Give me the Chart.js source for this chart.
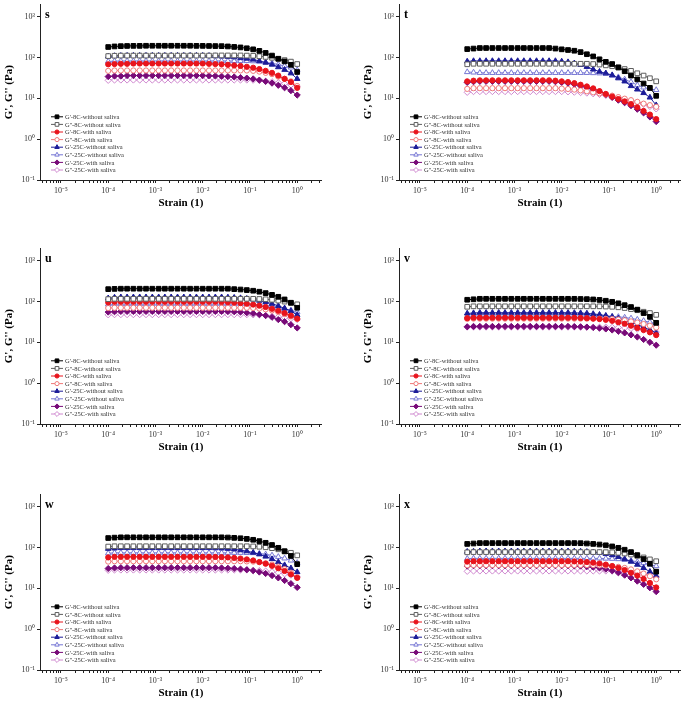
<!DOCTYPE html>
<html>
<head>
<meta charset="utf-8">
<script src="https://cdn.jsdelivr.net/npm/chart.js@4/dist/chart.umd.min.js"></script>
<style>
  body { margin: 0; background: #fff; }
  #wrap { position: relative; width: 685px; height: 704px; overflow: hidden; }
  canvas { position: absolute; }
</style>
</head>
<body>
<div id="wrap"></div>
<script>
// strain sweep, 31 points from 1e-4 to 1
const strain = [1.00e-4,1.36e-4,1.85e-4,2.51e-4,3.41e-4,4.64e-4,6.31e-4,8.58e-4,1.17e-3,1.58e-3,2.15e-3,2.93e-3,3.98e-3,5.41e-3,7.36e-3,1.00e-2,1.36e-2,1.85e-2,2.51e-2,3.41e-2,4.64e-2,6.31e-2,8.58e-2,0.117,0.158,0.215,0.293,0.398,0.541,0.736,1.00];

const seriesLabels = ["G'-8C-without saliva", "G''-8C-without saliva", "G'-8C-with saliva", "G''-8C-with saliva",
  "G'-25C-without saliva", "G''-25C-without saliva", "G'-25C-with saliva", "G''-25C-with saliva"];

const xTickExps = [-5, -4, -3, -2, -1, 0];
const yTickExps = [-1, 0, 1, 2, 3];
const minorSteps = [2, 3, 4, 5, 6, 7, 8, 9];

// panel s
const sGp8    = [180,186,189,191,192,192,193,193,193,193, 193,193,193,193,192,192,191,190,189,186, 181,176,168,158,145,129,111,93,80,66, 44];
const sGpp8   = [108,110,111,111,111,111,111,111,111,111, 111,111,111,111,111,111,111,112,112,112, 112,112,111,110,107,103,98,92,86,79, 69];
const sGp8s   = [68,69,70,70,71,71,71,71,71,71, 71,71,71,71,71,71,70,69,68,66, 64,62,59,56,52,47,42,36,30,25, 18];
const sGpp8s  = [47,48,48,48,48,48,48,48,48,48, 48,48,48,48,48,48,48,48,48,48, 48,48,48,47,45,42,39,34,30,26, 20];
const sGp25   = [106,109,110,111,111,111,111,111,111,111, 111,111,111,111,111,111,110,108,106,104, 101,97,94,89,82,75,67,58,50,41, 30];
const sGpp25  = [80,81,82,82,82,82,82,82,82,82, 82,82,82,82,82,82,82,82,82,82, 82,82,82,81,79,76,72,67,62,57, 49];
const sGp25s  = [34,35,35,36,36,36,36,36,36,36, 36,36,36,36,36,36,35.6,35.2,34.6,34, 33.3,32.2,31.2,29.9,27.9,25.9,23.5,20.8,18.1,15.4, 12];
const sGpp25s = [27.5,28,28,28,28,28,28,28,28,28, 28,28,28,28,28,28,28,28,28,28, 28,28,28,27.7,27.2,26.4,25.4,24.1,22.8,21.2, 19];

// panel t
const tGp8    = [160,165,170,170,170,170,170,170,170,170, 170,170,170,170,165,158,152,146,135,120, 106,90,78,69,57,46,36,29,23,18, 11.5];
const tGpp8   = [68,70,70,70,70,70,70,70,70,70, 70,70,70,70,70,70,70,70,70,70, 69,67,64,61,57,52,47,41,36,31, 26];
const tGp8s   = [26,27,27.5,27.5,27.5,27.5,27.5,27.5,27.5,27.5, 27.5,27.5,27.5,27.5,27,26,25,23.5,21.5,19.5, 17.5,15,12.8,11,9.6,8.4,7.2,6,4.9,4, 3.1];
const tGpp8s  = [17,17.7,17.7,17.7,17.7,17.7,17.7,17.7,17.7,17.7, 17.7,17.7,17.7,17.7,17.7,17.3,16.9,16.3,15.6,14.8, 14,13.2,12.4,11.6,10.7,9.8,9,8.2,7.4,6.8, 6.2];
const tGp25   = [80,82,82,82,82,82,82,82,82,82, 82,82,82,82,82,80,77,72,66,59, 51,45,41,37,31,26,20,16.5,13.5,10.5, 6.8];
const tGpp25  = [44,43,42,42,42,42,42,42,42,42, 42,42,42,42,42,42,42,42,42,42, 41.5,41,40,36,33,29,25,21,18.5,17, 16];
const tGp25s  = [24.5,25.5,26,26,26,26,26,26,26,26, 26,26,26,26,25.5,24.5,23.5,22,20,18.3, 16.3,14.2,12.2,10.5,9,7.8,6.6,5.4,4.4,3.5, 2.7];
const tGpp25s = [14,14.6,14.6,14.6,14.6,14.6,14.6,14.6,14.6,14.6, 14.6,14.6,14.6,14.6,14.6,14.6,14.4,14.1,13.8,13.4, 12.9,12.4,11.8,11.1,10.3,9.5,8.7,7.9,7.1,6.3, 5.5];

// panel u
const uGp8    = [200,203,205,205,205,205,205,205,205,205, 205,205,205,205,205,205,205,205,205,205, 200,196,190,183,173,160,145,130,112,93, 70];
const uGpp8   = [114,116,116,116,116,116,116,116,116,116, 116,116,116,116,116,116,116,116,116,116, 116,116,116,116,115,113,110,105,99,92, 85];
const uGp8s   = [95,98,98,98,98,98,98,98,98,98, 98,98,98,98,98,98,98,98,97,96, 94,91,88,84,79,73,66,59,52,45, 38];
const uGpp8s  = [69,70,70,70,70,70,70,70,70,70, 70,70,70,70,70,70,70,70,70,70, 70,70,70,69,67,64,60,55,49,43, 37];
const uGp25   = [120,125,127,127,127,127,127,127,127,127, 127,127,127,127,127,127,127,127,127,126, 124,121,117,112,105,97,88,78,68,58, 47];
const uGpp25  = [85,86,86,86,86,86,86,86,86,86, 86,86,86,86,86,86,86,86,86,86, 86,86,86,85,83,80,76,71,66,61, 55];
const uGp25s  = [55,56,57,57,57,57,57,57,57,57, 57,57,57,57,57,57,57,57,57,56.5, 56,55,53,51,48,45,41,36,32,27, 22.5];
const uGpp25s = [47,47.5,47.5,47.5,47.5,47.5,47.5,47.5,47.5,47.5, 47.5,47.5,47.5,47.5,47.5,47.5,47.5,47.5,47.5,47.5, 47.5,47.5,47.5,47,46.5,45.5,44,42,40,38, 36];

// panel v
const vGp8    = [110,113,116,116,116,116,116,116,116,116, 116,116,116,116,116,116,116,116,115,114, 112,109,104,98,90,81,73,63,52,42, 30];
const vGpp8   = [74,76,76,76,76,76,76,76,76,76, 76,76,76,76,76,76,76,76,76,76, 76,76,75,74,72,69,65,61,56,52, 47];
const vGp8s   = [39,40,40,40,40,40,40,40,40,40, 40,40,40,40,40,40,40,40,39.5,39, 38,37,35.5,33.5,31,28.5,25.5,22.5,20,17.5, 15];
const vGpp8s  = [37.5,38,38,38,38,38,38,38,38,38, 38,38,38,38,38,38,38,38,38,38, 38,38,37.5,37,36,34.5,32.5,30.5,28,25.5, 23];
const vGp25   = [51,52,53,53,53,53,53,53,53,53, 53,53,53,53,53,53,53,52.5,52,51, 49.5,47.5,45,42,38.5,35,31,27,23.5,20, 17];
const vGpp25  = [43,44,44,44,44,44,44,44,44,44, 44,44,44,44,44,44,44,44,44,44, 44,44,43.5,43,42,40.5,38.5,36,33.5,31, 28.6];
const vGp25s  = [24,24.5,24.5,24.5,24.5,24.5,24.5,24.5,24.5,24.5, 24.5,24.5,24.5,24.5,24.5,24.5,24.5,24.3,24,23.6, 23,22.2,21.2,20,18.6,17,15.2,13.5,11.7,10, 8.5];
const vGpp25s = [23.5,23.5,23.5,23.5,23.5,23.5,23.5,23.5,23.5,23.5, 23.5,23.5,23.5,23.5,23.5,23.5,23.5,23.5,23.5,23.5, 23.5,23.5,23.5,23.3,23,22.5,21.8,21,20,19, 17.8];

// panel w
const wGp8    = [170,174,177,177,177,177,177,177,177,177, 177,177,177,177,177,177,177,177,177,175, 172,168,162,154,143,130,115,98,80,62, 39];
const wGpp8   = [105,107,107,107,107,107,107,107,107,107, 107,107,107,107,107,107,107,107,107,107, 107,107,107,106,104,101,96,90,82,74, 64];
const wGp8s   = [57,59,59,59,59,59,59,59,59,59, 59,59,59,59,59,59,59,58.5,58,57, 55.5,53.5,51,48,44,40,35.5,31,26.5,22, 18];
const wGpp8s  = [45,46,46,46,46,46,46,46,46,46, 46,46,46,46,46,46,46,46,46,46, 46,46,45.5,45,43.5,41,38,34,29.5,24, 18.5];
const wGp25   = [93,95,97,97,97,97,97,97,97,97, 97,97,97,97,97,97,97,96,95,93, 90,86,81,75,68,60,52,44,37,31, 25];
const wGpp25  = [72,74,74,74,74,74,74,74,74,74, 74,74,74,74,74,74,74,74,74,74, 74,74,73.5,73,71,68,64,59,54,48, 42];
const wGp25s  = [30.5,31.5,32,32,32,32,32,32,32,32, 32,32,32,32,32,32,32,32,31.5,31, 30.5,29.5,28.5,27,25,23,20.5,18,15.5,13, 10.5];
const wGpp25s = [27.5,28,28,28,28,28,28,28,28,28, 28,28,28,28,28,28,28,28,28,28, 28,28,28,27.7,27.2,26.4,25.4,24.1,22.6,21, 19];

// panel x
const xGp8    = [122,125,128,128,128,128,128,128,128,128, 128,128,128,128,128,128,128,128,127,125, 122,118,113,106,98,88,77,65,52,40, 25.5];
const xGpp8   = [76,77,77,77,77,77,77,77,77,77, 77,77,77,77,77,77,77,77,77,77, 77,77,76.5,76,74,71,67,62,57,51, 46];
const xGp8s   = [45,46,46,46,46,46,46,46,46,46, 46,46,46,46,46,46,46,45.5,45,44, 42.5,40.5,38,35,31.5,28,24,20.5,17,13.5, 10.5];
const xGpp8s  = [36.5,37,37,37,37,37,37,37,37,37, 37,37,37,37,37,37,37,37,37,37, 37,36.5,36,35,33.5,31.5,29,26,23,19.8, 16.6];
const xGp25   = [79,80,81,81,81,81,81,81,81,81, 81,81,81,81,81,81,81,80.5,80,78.5, 76.5,73.5,70,65,59,52,45,38,31.5,25.5, 20];
const xGpp25  = [53,54,54,54,54,54,54,54,54,54, 54,54,54,54,54,54,54,54,54,54, 54,54,53.5,53,52,50,47.5,44.5,41.5,38, 35];
const xGp25s  = [35,36,36,36,36,36,36,36,36,36, 36,36,36,36,36,36,36,35.5,35,34, 33,31.5,29.5,27,24,21,18,15,12.5,10.3, 8.3];
const xGpp25s = [26,26.5,26.5,26.5,26.5,26.5,26.5,26.5,26.5,26.5, 26.5,26.5,26.5,26.5,26.5,26.5,26.5,26.5,26.5,26.5, 26.5,26.5,26.5,26.3,26,25.4,24.6,23.5,22.2,20.7, 19];

const panels = [
  { name: 's', series: [sGp8, sGpp8, sGp8s, sGpp8s, sGp25, sGpp25, sGp25s, sGpp25s] },
  { name: 't', series: [tGp8, tGpp8, tGp8s, tGpp8s, tGp25, tGpp25, tGp25s, tGpp25s] },
  { name: 'u', series: [uGp8, uGpp8, uGp8s, uGpp8s, uGp25, uGpp25, uGp25s, uGpp25s] },
  { name: 'v', series: [vGp8, vGpp8, vGp8s, vGpp8s, vGp25, vGpp25, vGp25s, vGpp25s] },
  { name: 'w', series: [wGp8, wGpp8, wGp8s, wGpp8s, wGp25, wGpp25, wGp25s, wGpp25s] },
  { name: 'x', series: [xGp8, xGpp8, xGp8s, xGpp8s, xGp25, xGpp25, xGp25s, xGpp25s] }
];

// styles
const seriesColors = ['#000000', '#5e5e5e', '#e8141c', '#f07878', '#1c1c98', '#7676d4', '#780a78', '#cf88cf'];
const seriesFilled = [true, false, true, false, true, false, true, false];
const seriesShapes = ['rect', 'rect', 'circle', 'circle', 'triangle', 'triangle', 'rectRot', 'rectRot'];
const seriesRadius = [3.3, 3.3, 2.6, 2.6, 3.2, 3.2, 3.1, 3.1];
const panelLeft = [0, 359, 0, 359, 0, 359];
const panelTop = [0, 0, 244, 244, 490, 490];

const SERIF = '"Liberation Serif", "Times New Roman", serif';
const SUP = { '-': '\u207B', '0': '\u2070', '1': '\u00B9', '2': '\u00B2', '3': '\u00B3', '4': '\u2074', '5': '\u2075', '6': '\u2076' };

function decadeLabel(v, exps) {
  const e = Math.round(Math.log10(v));
  if (Math.abs(v - Math.pow(10, e)) / v > 1e-6 || exps.indexOf(e) < 0) return '';
  return '10' + String(e).split('').map(c => SUP[c]).join('');
}

const xMin = 3.6e-6, xMax = 3.3, yMin = 0.1, yMax = 2000;
const xTicks = [];
for (let e = -6; e <= 0; e++) {
  [1].concat(minorSteps).forEach(m => {
    const v = m * Math.pow(10, e);
    if (v >= xMin && v <= xMax) xTicks.push(v);
  });
}
const yTicks = yTickExps.map(e => Math.pow(10, e));

function marker(ctx, shape, r, x, y) {
  if (Chart.helpers && Chart.helpers.drawPoint) {
    Chart.helpers.drawPoint(ctx, { pointStyle: shape, radius: r, borderWidth: 1, rotation: 0 }, x, y);
    return;
  }
  ctx.beginPath();
  ctx.arc(x, y, r, 0, Math.PI * 2);
  ctx.fill(); ctx.stroke();
}

const overlay = {
  id: 'overlay',
  afterDraw(chart, args, opts) {
    const ctx = chart.ctx, a = chart.chartArea;
    ctx.save();
    ctx.fillStyle = '#000';
    ctx.textBaseline = 'middle';
    ctx.font = 'bold 12px ' + SERIF;
    ctx.fillText(opts.letter, a.left + 5, a.top + 11);
    ctx.font = '6.5px ' + SERIF;
    const ds = chart.data.datasets;
    ds.forEach((d, i) => {
      const y = a.bottom - 10 - (ds.length - 1 - i) * 7.6;
      const x0 = a.left + 11;
      ctx.lineWidth = 1;
      ctx.strokeStyle = d.borderColor;
      ctx.beginPath(); ctx.moveTo(x0, y); ctx.lineTo(x0 + 12, y); ctx.stroke();
      ctx.fillStyle = d.pointBackgroundColor;
      ctx.strokeStyle = d.pointBorderColor;
      marker(ctx, d.pointStyle, d.pointRadius * 0.8, x0 + 6, y);
      ctx.fillStyle = '#333';
      ctx.fillText(d.label, x0 + 14, y + 0.5);
    });
    ctx.restore();
  }
};

const wrap = document.getElementById('wrap');
panels.forEach((p, k) => {
  const cv = document.createElement('canvas');
  cv.width = 326; cv.height = 212;
  cv.style.width = '326px'; cv.style.height = '212px';
  cv.style.left = panelLeft[k] + 'px'; cv.style.top = panelTop[k] + 'px';
  wrap.appendChild(cv);

  new Chart(cv, {
    type: 'scatter',
    data: {
      datasets: p.series.map((vals, i) => ({
        label: seriesLabels[i],
        data: strain.map((x, j) => ({ x: x, y: vals[j] })),
        showLine: true,
        borderColor: seriesColors[i],
        borderWidth: 1,
        pointStyle: seriesShapes[i],
        pointRadius: seriesRadius[i],
        pointHoverRadius: seriesRadius[i],
        pointBackgroundColor: seriesFilled[i] ? seriesColors[i] : '#ffffff',
        pointBorderColor: seriesColors[i],
        pointBorderWidth: 1
      }))
    },
    options: {
      responsive: false,
      animation: false,
      devicePixelRatio: 1,
      layout: { padding: { top: 3, right: 1, left: 0, bottom: 2 } },
      plugins: {
        legend: { display: false },
        tooltip: { enabled: false },
        overlay: { letter: p.name }
      },
      scales: {
        x: {
          type: 'logarithmic', position: 'bottom', min: xMin, max: xMax,
          afterBuildTicks: s => { s.ticks = xTicks.map(v => ({ value: v })); },
          afterFit: s => { s.height = 30; s.paddingLeft = 0; s.paddingRight = 0; },
          ticks: {
            autoSkip: false, maxRotation: 0, minRotation: 0, padding: 3, color: '#333',
            font: { family: SERIF, size: 8 },
            callback: v => decadeLabel(v, xTickExps)
          },
          grid: { drawOnChartArea: false, drawTicks: true, tickLength: 3, color: '#222' },
          border: { display: true, color: '#222', width: 1 },
          title: { display: true, text: 'Strain (1)', color: '#000', padding: 0,
                   font: { family: SERIF, size: 11, weight: 'bold' } }
        },
        y: {
          type: 'logarithmic', position: 'left', min: yMin, max: yMax,
          afterBuildTicks: s => { s.ticks = yTicks.map(v => ({ value: v })); },
          afterFit: s => { s.width = 40; s.paddingTop = 0; s.paddingBottom = 0; },
          ticks: {
            autoSkip: false, padding: 2, color: '#333',
            font: { family: SERIF, size: 8 },
            callback: v => decadeLabel(v, yTickExps)
          },
          grid: { drawOnChartArea: false, drawTicks: true, tickLength: 3, color: '#222' },
          border: { display: true, color: '#222', width: 1 },
          title: { display: true, text: "G', G'' (Pa)", color: '#000', padding: { top: 3, bottom: 0 },
                   font: { family: SERIF, size: 11, weight: 'bold' } }
        }
      }
    },
    plugins: [overlay]
  });
});
</script>
</body>
</html>
